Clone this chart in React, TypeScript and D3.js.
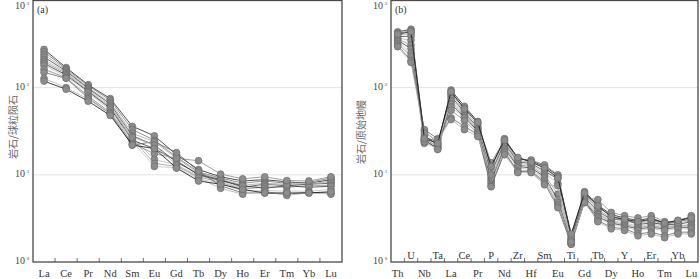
import * as d3 from "d3";

const reeElements = ["La", "Ce", "Pr", "Nd", "Sm", "Eu", "Gd", "Tb", "Dy", "Ho", "Er", "Tm", "Yb", "Lu"];

const reeSamples: number[][] = [
  [275, 170, 108, 75, 36, 28, 17, 11.5, 9.5, 8.5, 8.8, 8.3, 8.0, 8.8],
  [258, 165, 105, 72, 33, 25, 16, 10.8, 9.2, 8.0, 8.5, 8.0, 8.2, 9.2],
  [240, 160, 100, 68, 30, 24, 15.5, 10.5, 9.0, 7.6, 8.0, 7.8, 7.8, 8.5],
  [225, 155, 98, 65, 28, 22, 14, 10.2, 8.8, 7.2, 7.8, 7.5, 7.8, 8.0],
  [210, 150, 95, 62, 27, 15, 13, 9.8, 8.5, 7.0, 7.6, 7.8, 8.0, 8.2],
  [200, 145, 92, 60, 26, 13.5, 12.5, 9.5, 8.2, 6.8, 7.3, 7.2, 7.5, 7.6],
  [190, 140, 90, 58, 25, 20, 14.5, 10.0, 8.6, 7.5, 7.0, 7.5, 7.2, 7.4],
  [180, 135, 88, 55, 24, 12.5, 12, 9.0, 8.0, 6.5, 6.6, 6.5, 6.5, 6.8],
  [163, 130, 80, 52, 23, 17.5, 15.5, 14.5, 10.2, 9.0, 9.5, 8.6, 8.5, 9.5],
  [150, 128, 76, 50, 22, 24, 18, 11, 7.5, 6.2, 6.2, 6.0, 6.3, 6.2],
  [128, 100, 74, 50, 27, 22, 13, 9.2, 7.0, 6.0, 6.5, 5.8, 6.2, 6.0],
  [119, 96, 70, 48, 22, 20, 12, 8.5, 7.8, 6.8, 6.2, 6.2, 6.2, 6.4],
];

const spiderElements = ["Th", "U", "Nb", "Ta", "La", "Ce", "Pr", "P", "Nd", "Zr", "Hf", "Sm", "Eu", "Ti", "Gd", "Tb", "Dy", "Y", "Ho", "Er", "Tm", "Yb", "Lu"];

const spiderSamples: number[][] = [
  [437, 468, 28, 22, 94, 61, 41, 12, 26, 15.5, 14.5, 12.5, 9.8, 2.0, 6.4, 4.5, 3.5, 3.2, 3.0, 3.2, 2.8, 3.0, 3.3],
  [420, 450, 26, 21, 88, 58, 39, 13.8, 25, 15, 14.8, 13, 10, 1.9, 6.0, 4.2, 3.4, 3.0, 2.9, 3.0, 2.7, 2.9, 3.1],
  [400, 420, 25, 20, 85, 55, 37, 11, 24, 14.5, 14, 12, 9.5, 1.8, 5.8, 4.0, 3.2, 2.9, 2.8, 2.9, 2.6, 2.8, 3.0],
  [385, 390, 27, 24, 80, 52, 35, 10.5, 23, 14, 13.5, 11, 9.0, 1.85, 5.5, 3.8, 3.1, 3.1, 2.7, 2.8, 2.7, 2.7, 2.9],
  [370, 350, 24, 22, 75, 50, 34, 9.5, 22, 13.5, 13, 10.5, 8.0, 1.7, 5.2, 3.6, 3.0, 2.8, 2.6, 2.7, 2.6, 2.6, 2.7],
  [360, 310, 23, 21, 70, 48, 33, 9.0, 21, 13, 12.5, 10, 6.0, 1.75, 5.0, 3.5, 2.9, 2.7, 2.5, 2.6, 2.5, 2.6, 2.6],
  [350, 280, 25, 20, 65, 46, 32, 8.5, 20, 12.5, 12, 9.5, 5.2, 1.65, 4.9, 3.3, 2.8, 2.6, 2.4, 2.5, 2.4, 2.5, 2.5],
  [335, 250, 24, 19.5, 60, 45, 31, 8.0, 19, 12, 11.5, 9.0, 4.8, 1.6, 4.8, 3.2, 2.7, 2.5, 2.3, 2.4, 2.3, 2.4, 2.4],
  [320, 230, 32, 23, 55, 42, 30, 7.5, 18, 11, 11, 8.5, 4.5, 1.7, 5.5, 5.2, 3.7, 3.4, 3.2, 3.4, 2.9, 2.8, 3.4],
  [305, 205, 33, 26, 45, 36, 29, 7.3, 18, 11, 11, 8.0, 4.2, 1.6, 5.0, 3.0, 2.5, 2.4, 2.1, 2.2, 2.0, 2.2, 2.2],
  [295, 195, 30, 25, 43, 33, 27.5, 10, 17, 10.6, 10.6, 7.7, 7.5, 1.7, 4.8, 2.9, 2.4, 2.3, 2.0, 2.1, 1.9, 2.1, 2.1],
  [410, 440, 26, 23, 90, 57, 40, 12.5, 25, 15.8, 14, 12, 9.2, 2.1, 6.2, 4.4, 3.3, 3.1, 2.9, 3.1, 2.8, 3.0, 3.2],
];

const lineGrays = ["#222", "#777", "#aaa", "#444", "#bbb", "#999", "#333", "#c4c4c4", "#888", "#666", "#b0b0b0", "#111"];
const decades = [1, 10, 100, 1000];
const serif = "'Liberation Serif', 'Times New Roman', serif";

type PanelProps = {
  left: number;
  right: number;
  elements: string[];
  samples: number[][];
  tag: string;
  yTitle: string;
  titleX: number;
  titleY: number;
  staggered: boolean;
};

function Panel({ left, right, elements, samples, tag, yTitle, titleX, titleY, staggered }: PanelProps) {
  const top = 0.5;
  const bottom = 262;
  const x = d3.scaleBand<string>().domain(elements).range([left, right]).padding(0);
  const y = d3.scaleLog().domain([1, 1000]).range([bottom, top]);
  const cx = (e: string) => (x(e) as number) + x.bandwidth() / 2;
  const line = d3
    .line<number>()
    .x((_, i) => cx(elements[i]))
    .y((d) => y(d));

  return (
    <g>
      {/* grid */}
      {[10, 100].map((v) => (
        <line key={v} x1={left} x2={right} y1={y(v)} y2={y(v)} stroke="#e2e2e2" strokeWidth={1} />
      ))}

      {/* series */}
      {samples.map((s, k) => (
        <g key={k}>
          <path d={line(s) || ""} fill="none" stroke={lineGrays[k % lineGrays.length]} strokeWidth={0.8} />
          {s.map((v, i) => (
            <circle key={i} cx={cx(elements[i])} cy={y(v)} r={3.4} fill="#8d8d8d" stroke="#6b6b6b" strokeWidth={0.7} />
          ))}
        </g>
      ))}

      {/* frame */}
      <rect x={left} y={top} width={right - left} height={bottom - top} fill="none" stroke="#4a4a4a" strokeWidth={1.3} />

      {/* x ticks at band boundaries */}
      {elements.slice(1).map((e) => (
        <line key={e} x1={x(e)} x2={x(e)} y1={bottom} y2={bottom - 4} stroke="#4a4a4a" strokeWidth={0.8} />
      ))}

      {/* x labels */}
      {elements.map((e, i) => {
        const upper = staggered && i % 2 === 1;
        return (
          <text
            key={e}
            x={cx(e)}
            y={upper ? 259 : 277}
            textAnchor="middle"
            fontFamily={serif}
            fontSize={10.5}
            fill="#333"
          >
            {e}
          </text>
        );
      })}

      {/* y labels */}
      {decades.map((v, i) => (
        <text key={v} x={left - 8} y={Math.max(y(v), 7) + 2} textAnchor="end" fontFamily={serif} fontSize={10} fill="#444">
          10
          <tspan x={left - 5} dy={-4} textAnchor="middle" fontSize={5}>
            {i}
          </tspan>
        </text>
      ))}

      <text x={left + 4} y={13} fontFamily={serif} fontSize={10} fill="#333">
        {tag}
      </text>

      <text
        transform={`translate(${titleX},${titleY}) rotate(-90)`}
        textAnchor="middle"
        dominantBaseline="central"
        fontFamily="'Noto Sans CJK SC', sans-serif"
        fontSize={10}
        fill="#666"
      >
        {yTitle}
      </text>
    </g>
  );
}

export default function App() {
  return (
    <svg
      width={700}
      height={279}
      style={{ position: "absolute", left: 0, top: 0, background: "#fff" }}
    >
      <Panel left={33} right={342} elements={reeElements} samples={reeSamples} tag="(a)" yTitle="岩石/球粒陨石" titleX={12} titleY={127} staggered={false} />
      <Panel left={391} right={698} elements={spiderElements} samples={spiderSamples} tag="(b)" yTitle="岩石/原始地幔" titleX={360} titleY={132} staggered={true} />
    </svg>
  );
}
